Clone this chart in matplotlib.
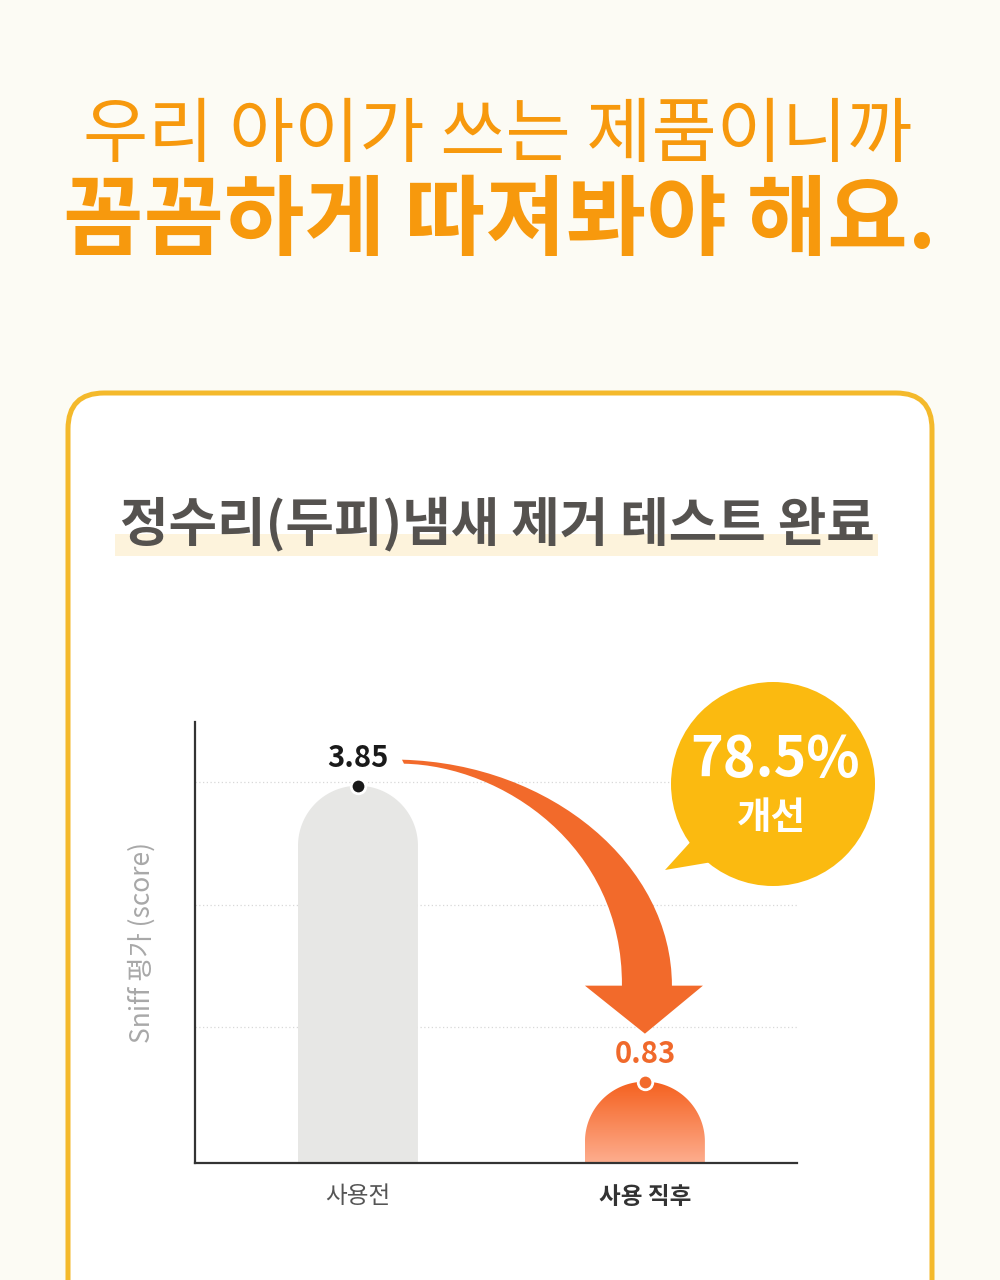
import numpy as np
import matplotlib
matplotlib.use("Agg")
import matplotlib.pyplot as plt
from matplotlib.patches import Polygon, FancyBboxPatch, Rectangle, Circle, PathPatch
from matplotlib.path import Path
from matplotlib.colors import LinearSegmentedColormap

plt.rcParams['font.family'] = ['Noto Sans CJK KR', 'DejaVu Sans']

# data
categories = ['사용전', '사용 직후']
scores = [3.85, 0.83]
score_labels = ['3.85', '0.83']
grid_values = [1.39, 2.63, 3.89]
improvement = '78.5%'
headline_1 = '우리 아이가 쓰는 제품이니까'
headline_2 = '꼼꼼하게 따져봐야 해요.'
card_title = '정수리(두피)냄새 제거 테스트 완료'
y_label = 'Sniff 평가 (score)'

W, H = 1000, 1280
ORANGE = '#F7990D'
ARROW = '#F26A2B'
BUBBLE = '#FBBA10'

fig = plt.figure(figsize=(W / 100, H / 100), dpi=100)
fig.patch.set_facecolor('#FCFBF4')

# background layer, pixel coords with y going down
bg = fig.add_axes([0, 0, 1, 1], zorder=0)
bg.set_xlim(0, W)
bg.set_ylim(H, 0)
bg.axis('off')

bg.text(498, 135, headline_1, ha='center', va='center', fontsize=51,
        color=ORANGE, fontweight='medium')
bg.text(500, 223, headline_2, ha='center', va='center', fontsize=63,
        color=ORANGE, fontweight='heavy')

card = FancyBboxPatch((68, 393), 864, 1000, boxstyle='round,pad=0,rounding_size=36',
                      facecolor='white', edgecolor='#F4B92B', linewidth=3.6)
bg.add_patch(card)
bg.add_patch(Rectangle((115, 534), 763, 22, facecolor='#FDF3DC', edgecolor='none'))
bg.text(497, 524, card_title, ha='center', va='center', fontsize=38,
        color='#55524F', fontweight='bold')

# chart axes
ax_l, ax_r, ax_t, ax_b = 195, 797, 722, 1163
ax = fig.add_axes([ax_l / W, (H - ax_b) / H, (ax_r - ax_l) / W, (ax_b - ax_t) / H], zorder=1)
ax.patch.set_alpha(0)
ax.set_xlim(-0.568, 1.530)
ax.set_ylim(0, 4.5)

x = np.arange(len(categories))
bar_w = 0.418
half_w = bar_w / 2
px_x = (ax_r - ax_l) / (1.530 + 0.568)
px_y = (ax_b - ax_t) / 4.5
ry = half_w * px_x / px_y


def dome(xc, h):
    theta = np.linspace(np.pi, 0, 80)
    top = h - ry
    verts = [(xc - half_w, 0)]
    verts += list(zip(xc + half_w * np.cos(theta), top + ry * np.sin(theta)))
    verts += [(xc + half_w, 0)]
    return Polygon(verts, closed=True)


ax.set_yticks(grid_values)
ax.grid(axis='y', linestyle=(0, (1, 2)), color='#D8D8D8', linewidth=0.9)
ax.set_axisbelow(True)

b0 = dome(x[0], scores[0])
b0.set_facecolor('#E7E7E5')
b0.set_edgecolor('none')
b0.set_zorder(2)
ax.add_patch(b0)

b1 = dome(x[1], scores[1])
b1.set_facecolor('none')
b1.set_edgecolor('none')
ax.add_patch(b1)
grad = LinearSegmentedColormap.from_list('bar', ['#FDAD8E', '#F5611F'])
img = ax.imshow(np.linspace(0, 1, 100).reshape(-1, 1), cmap=grad, origin='lower',
                extent=[x[1] - half_w, x[1] + half_w, 0, scores[1]], aspect='auto', zorder=2)
img.set_clip_path(b1)
ax.set_xlim(-0.568, 1.530)
ax.set_ylim(0, 4.5)

dot_colors = ['#1A1A1A', ARROW]
label_colors = ['#1A1A1A', '#F0692B']
for xi, v, lab, dc, lc in zip(x, scores, score_labels, dot_colors, label_colors):
    ax.scatter([xi], [v], s=110, color=dc, edgecolor='white', linewidth=2, zorder=4)
    ax.annotate(lab, (xi, v), xytext=(0, 20), textcoords='offset points',
                ha='center', va='center', fontsize=21, fontweight='bold', color=lc)

for side in ['top', 'right']:
    ax.spines[side].set_visible(False)
for side in ['left', 'bottom']:
    ax.spines[side].set_color('#333333')
    ax.spines[side].set_linewidth(1.6)
ax.tick_params(axis='y', length=0, labelleft=False)
ax.tick_params(axis='x', length=0, pad=16)
ax.set_xticks(x, categories, fontsize=17)
tl = ax.get_xticklabels()
tl[0].set_color('#555555')
tl[1].set_color('#333333')
tl[1].set_fontweight('bold')
ax.set_ylabel(y_label, fontsize=19, color='#A8A8A8')
ax.yaxis.set_label_coords(-(ax_l - 156) / (ax_r - ax_l), 0.5)

# overlay: curved arrow and speech bubble (pixel coords, y down)
top = fig.add_axes([0, 0, 1, 1], zorder=2)
top.set_xlim(0, W)
top.set_ylim(H, 0)
top.axis('off')
top.patch.set_alpha(0)

fig.canvas.draw()
d0 = ax.transData.transform((x[0], scores[0]))
d1 = ax.transData.transform((x[1], scores[1]))
ax0, ay0 = d0[0] + 44, H - d0[1] - 26
bx, by = d1[0], H - d1[1] - 48
verts = [
    (ax0, ay0),
    (ax0 + 150, ay0 + 4), (bx + 27, by - 168), (bx + 27, by - 48),
    (bx + 58, by - 48), (bx, by), (bx - 60, by - 48), (bx - 23, by - 48),
    (bx - 22, by - 188), (ax0 + 100, ay0 + 6), (ax0 + 2, ay0 + 4),
    (ax0, ay0),
]
codes = [Path.MOVETO, Path.CURVE4, Path.CURVE4, Path.CURVE4,
         Path.LINETO, Path.LINETO, Path.LINETO, Path.LINETO,
         Path.CURVE4, Path.CURVE4, Path.CURVE4, Path.CLOSEPOLY]
top.add_patch(PathPatch(Path(verts, codes), facecolor=ARROW, edgecolor='none'))

cx, cy, r = 773, 784, 102
top.add_patch(Circle((cx, cy), r, facecolor=BUBBLE, edgecolor='none'))
top.add_patch(Polygon([(694, 838), (665, 870), (724, 860)], closed=True,
                      facecolor=BUBBLE, edgecolor='none'))
top.text(cx + 2, 760, improvement, ha='center', va='center', fontsize=40,
         fontweight='bold', color='white')
top.text(cx - 2, 818, '개선', ha='center', va='center', fontsize=27,
         fontweight='bold', color='white')

fig.savefig('out.png', dpi=100, facecolor=fig.get_facecolor())
